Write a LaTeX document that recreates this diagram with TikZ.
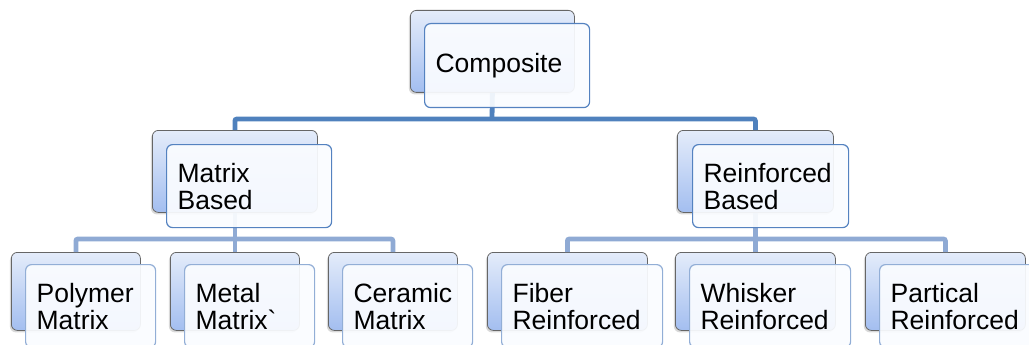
\documentclass[tikz,border=0pt]{standalone}
\usepackage{fontspec}
\setmainfont{Liberation Sans}
\usepackage{tikz}
\usetikzlibrary{shadows}

\definecolor{fondhaut}{RGB}{228,236,250}
\definecolor{fondbas}{RGB}{163,190,240}
\definecolor{trait1}{RGB}{79,129,189}
\definecolor{trait2}{RGB}{143,170,212}
\definecolor{bord1}{RGB}{84,130,192}
\definecolor{bord2}{RGB}{146,174,214}
\definecolor{faceblanc}{RGB}{250,252,255}

\tikzset{
  fond/.style={draw=gray!80!black, line width=0.8pt, rounded corners=6pt,
    top color=fondhaut, bottom color=fondbas, anchor=north west, inner sep=0pt,
    drop shadow={shadow xshift=-1.5pt, shadow yshift=-2pt, opacity=0.3}},
  face/.style={draw=bord1, line width=1.2pt, rounded corners=6pt,
    fill=faceblanc, fill opacity=0.93, text opacity=1, anchor=north west,
    align=left, inner xsep=11pt, inner ysep=0pt,
    font=\fontsize{26.5}{27}\selectfont},
  face2/.style={face, draw=bord2},
  lien/.style={draw=trait1, line width=4.8pt, rounded corners=2pt},
  lien2/.style={lien, draw=trait2},
}

\begin{document}
\begin{tikzpicture}[x=1pt,y=-1pt]
  \useasboundingbox (0,0) rectangle (1029,345);

  % Cadres du fond
  \node[fond, minimum width=164pt, minimum height=82pt] (compF) at (410,10) {};
  \node[fond, minimum width=165pt, minimum height=82pt] (matF) at (152,130) {};
  \node[fond, minimum width=156pt, minimum height=82pt] (renF) at (677,130) {};

  \node[fond, minimum width=129pt, minimum height=78pt] (polF) at (11,252) {};
  \node[fond, minimum width=129pt, minimum height=78pt] (metF) at (170,252) {};
  \node[fond, minimum width=129pt, minimum height=78pt] (cerF) at (328,252) {};

  \node[fond, minimum width=160pt, minimum height=78pt] (fibF) at (487,252) {};
  \node[fond, minimum width=160pt, minimum height=78pt] (whiF) at (675,252) {};
  \node[fond, minimum width=160pt, minimum height=78pt] (parF) at (865,252) {};

  % Liaisons
  \coordinate (b1) at (492,119);
  \coordinate (b2) at (234.5,239);
  \coordinate (b3) at (755,239);

  \draw[lien] (compF.south) -- (b1);
  \draw[lien] (matF.north) |- (b1) -| (renF.north);

  \draw[lien2] (matF.south) -- (metF.north);
  \draw[lien2] (polF.north) |- (b2) -| (cerF.north);

  \draw[lien2] (renF.south) -- (whiF.north);
  \draw[lien2] (fibF.north) |- (b3) -| (parF.north);

  % Cadres avec texte
  \node[face, text width=143pt, minimum height=84pt] (comp) at (424,23) {Composite};
  \node[face, text width=143pt, minimum height=83pt] (mat) at (166,144) {Matrix\\Based};
  \node[face, text width=134pt, minimum height=83pt] (ren) at (692,144) {Reinforced\\Based};

  \node[face2, text width=108pt, minimum height=83pt] (pol) at (25,264) {Polymer\\Matrix};
  \node[face2, text width=108pt, minimum height=83pt] (met) at (184,264) {Metal\\Matrix\textasciigrave};
  \node[face2, text width=108pt, minimum height=83pt] (cer) at (342,264) {Ceramic\\Matrix};

  \node[face2, text width=139pt, minimum height=83pt] (fib) at (501,264) {Fiber\\Reinforced};
  \node[face2, text width=139pt, minimum height=83pt] (whi) at (689,264) {Whisker\\Reinforced};
  \node[face2, text width=139pt, minimum height=83pt] (par) at (879,264) {Partical\\Reinforced};
\end{tikzpicture}
\end{document}
